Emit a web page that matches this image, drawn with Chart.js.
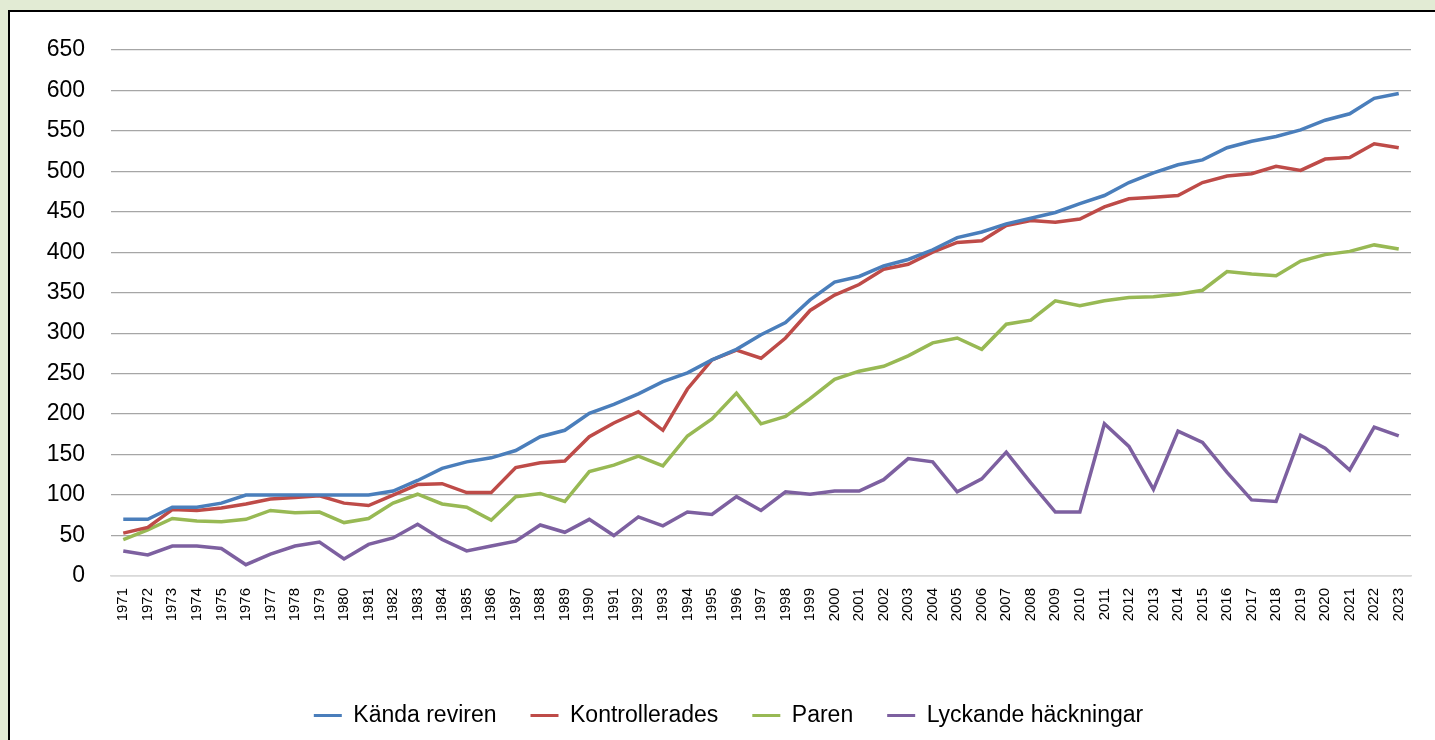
<!DOCTYPE html>
<html>
<head>
<meta charset="utf-8">
<script src="https://cdn.jsdelivr.net/npm/chart.js"></script>
<style>
  html, body { margin: 0; padding: 0; }
  body { background: #e2ebd4; width: 1435px; height: 740px; overflow: hidden; position: relative; }
  #box { position: absolute; left: 8px; top: 10px; width: 1440px; height: 740px;
         background: #fff; border-left: 2px solid #000; border-top: 2px solid #000; }
  #wrap { position: absolute; left: -2px; top: -2px; width: 1427px; height: 730px; }
</style>
</head>
<body>
<div id="box"><div id="wrap"><canvas id="lineChart"></canvas></div></div>
<script>
// ======================== DATA ======================== //
const years = [];
for (let y = 1971; y <= 2023; y++) years.push(String(y));

const kandaReviren = [70, 70, 85, 85, 90, 100, 100, 100, 100, 100, 100, 105, 118, 133, 141, 146, 155, 172, 180, 201,
  212, 225, 240, 251, 267, 280, 298, 313, 341, 363, 370, 383, 391, 403, 418, 425, 435, 442, 449, 460,
  470, 486, 498, 508, 514, 529, 537, 543, 551, 563, 571, 590, 596];

const kontrollerades = [53, 60, 82, 81, 84, 89, 95, 97, 99, 90, 87, 100, 113, 114, 103, 103, 134, 140, 142, 172,
  189, 203, 180, 231, 267, 279, 269, 294, 328, 347, 360, 379, 385, 400, 412, 414, 433, 439, 437, 441,
  456, 466, 468, 470, 486, 494, 497, 506, 501, 515, 517, 534, 529];

const paren = [45, 57, 71, 68, 67, 70, 81, 78, 79, 66, 71, 90, 101, 89, 85, 69, 98, 102, 92, 129,
  137, 148, 136, 173, 194, 226, 188, 197, 219, 243, 253, 259, 272, 288, 294, 280, 311, 316, 340, 334,
  340, 344, 345, 348, 353, 376, 373, 371, 389, 397, 401, 409, 404];

const lyckande = [31, 26, 37, 37, 34, 14, 27, 37, 42, 21, 39, 47, 64, 45, 31, 37, 43, 63, 54, 70,
  50, 73, 62, 79, 76, 98, 81, 104, 101, 105, 105, 119, 145, 141, 104, 120, 153, 115, 79, 79,
  188, 160, 107, 179, 165, 128, 94, 92, 174, 158, 131, 184, 173];

const seriesNames = ['Kända reviren', 'Kontrollerades', 'Paren', 'Lyckande häckningar'];
const seriesColors = ['#4a7ebb', '#be4b48', '#98b954', '#7d60a0'];
const seriesData = [kandaReviren, kontrollerades, paren, lyckande];

// --- Build datasets ---
const datasets = seriesData.map((d, i) => ({
  label: seriesNames[i],
  data: d,
  borderColor: seriesColors[i],
  backgroundColor: seriesColors[i],
  borderWidth: 3.5,
  pointRadius: 0,
  tension: 0
}));

// nudge the legend a bit to the right, like the original
const legendShift = {
  id: 'legendShift',
  afterLayout(chart) {
    if (chart.legend) {
      chart.legend.left += 19;
      chart.legend.right += 19;
    }
  }
};

const ctx = document.getElementById('lineChart').getContext('2d');

new Chart(ctx, {
  type: 'line',
  data: { labels: years, datasets: datasets },
  plugins: [legendShift],
  options: {
    responsive: true,
    maintainAspectRatio: false,
    animation: false,
    layout: { padding: { left: 0, top: 30, right: 24, bottom: 3 } },
    plugins: {
      tooltip: { enabled: false },
      legend: {
        position: 'bottom',
        labels: {
          color: '#000',
          boxWidth: 28,
          boxHeight: 3,
          padding: 34,
          font: { family: 'Liberation Sans', size: 23 },
          generateLabels: function (chart) {
            const items = Chart.defaults.plugins.legend.labels.generateLabels(chart);
            return items.map(it => Object.assign(it, { lineWidth: 0 }));
          }
        }
      }
    },
    scales: {
      x: {
        offset: true,
        grid: { display: false, drawTicks: false },
        border: { color: '#d9d9d9', width: 1.5 },
        ticks: {
          color: '#000',
          autoSkip: false,
          minRotation: 90,
          maxRotation: 90,
          padding: 12,
          font: { family: 'Liberation Sans', size: 15 }
        },
        afterFit: function (s) { s.height = 94; }
      },
      y: {
        min: 0,
        max: 650,
        grid: { color: '#a6a6a6', lineWidth: 1.2, drawTicks: false },
        border: { display: false },
        ticks: {
          stepSize: 50,
          color: '#000',
          padding: 26,
          font: { family: 'Liberation Sans', size: 23 }
        },
        afterFit: function (s) { s.width = 103; }
      }
    }
  }
});
</script>
</body>
</html>
